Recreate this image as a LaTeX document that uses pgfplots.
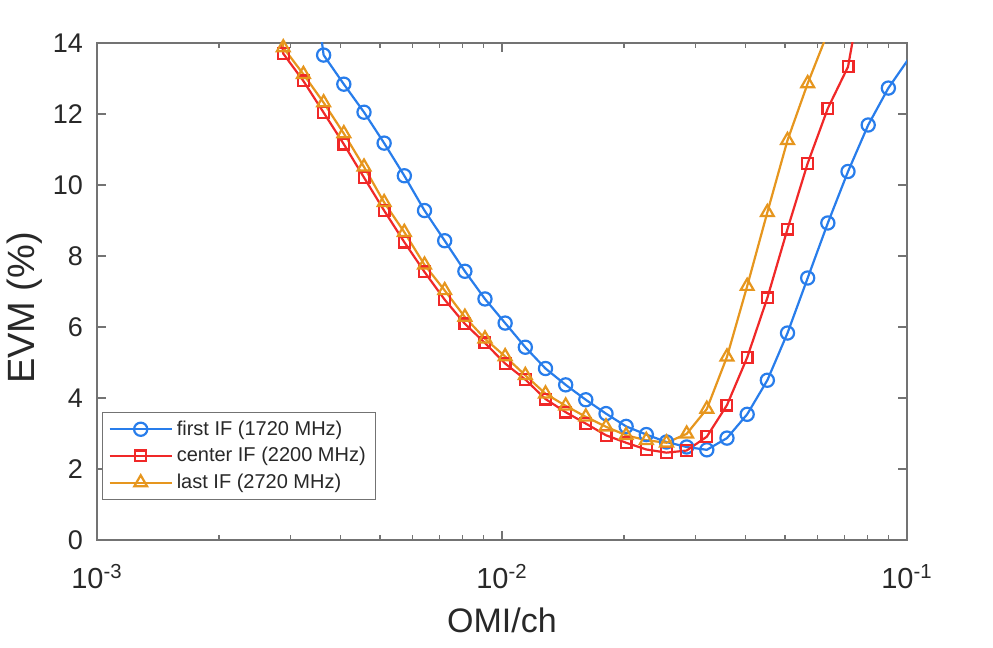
\documentclass[border=0pt]{standalone}
\usepackage{fontspec}
\setmainfont{Liberation Sans}
\usepackage{pgfplots}
\pgfplotsset{compat=1.18}
\definecolor{cblue}{RGB}{40,125,235}
\definecolor{cred}{RGB}{240,40,40}
\definecolor{corange}{RGB}{230,150,30}
\definecolor{axgray}{RGB}{115,115,115}
\definecolor{txt}{RGB}{40,40,40}
\begin{document}
\begin{tikzpicture}
\begin{semilogxaxis}[
  scale only axis, width=405pt, height=248.5pt,
  xmin=0.001, xmax=0.1, ymin=0, ymax=14,
  xtick={0.001,0.01,0.1},
  xticklabels={10\textsuperscript{-3},10\textsuperscript{-2},10\textsuperscript{-1}},
  ytick={0,2,4,6,8,10,12,14},
  axis line style={axgray, line width=0.8pt},
  every tick/.style={axgray, line width=0.6pt},
  major tick length=4.5pt, minor tick length=2.5pt,
  tick label style={font=\fontsize{13.5}{16}\selectfont, text=txt, /pgf/number format/assume math mode=true},
  xticklabel style={yshift=-8.5pt, font=\fontsize{14.5}{16}\selectfont},
  yticklabel style={xshift=-3.5pt},
  xlabel={OMI/ch}, ylabel={EVM (\%)},
  every axis x label/.style={at={(axis description cs:0.5,0)}, anchor=center, yshift=-40pt, font=\fontsize{17}{20}\selectfont, text=txt},
  every axis y label/.style={at={(axis description cs:-0.089,0.467)}, anchor=center, rotate=90, font=\fontsize{19}{20}\selectfont, text=txt},
  legend cell align=left,
  legend style={at={(axis description cs:0.0062,0.0805)}, anchor=south west, draw=axgray, line width=0.6pt, fill=white, font=\fontsize{10}{12}\selectfont, text=txt, row sep=0.6pt, inner xsep=3pt, inner ysep=2pt},
  legend image code/.code={\draw[mark repeat=2,mark phase=2,#1] plot coordinates {(0pt,0pt) (15.5pt,0pt) (31pt,0pt)};},
]
\addplot[cblue, line width=1.1pt, mark=o, mark size=3.3pt, mark options={solid, fill=white}] coordinates {
(0.003234,18) (0.003628,13.66) (0.004069,12.84) (0.004564,12.05) (0.005117,11.18) (0.005740,10.26) (0.006438,9.28) (0.007220,8.43) (0.008098,7.57) (0.009078,6.79) (0.010181,6.11) (0.011419,5.43) (0.012808,4.83) (0.014365,4.37) (0.016106,3.95) (0.018067,3.56) (0.020254,3.20) (0.022718,2.97) (0.025480,2.76) (0.028576,2.62) (0.032047,2.54) (0.035940,2.87) (0.040308,3.54) (0.045208,4.50) (0.050699,5.83) (0.056858,7.38) (0.063768,8.93) (0.071515,10.38) (0.080204,11.69) (0.089950,12.73) (0.100879,13.55)
};
\addlegendentry{first IF (1720 MHz)}
\addplot[cred, line width=1.1pt, mark=square, mark size=2.7pt, mark options={solid, fill=white}] coordinates {
(0.002572,18) (0.002884,13.70) (0.003234,12.93) (0.003628,12.04) (0.004069,11.15) (0.004564,10.21) (0.005117,9.28) (0.005740,8.39) (0.006438,7.55) (0.007220,6.77) (0.008098,6.09) (0.009078,5.55) (0.010181,4.97) (0.011419,4.52) (0.012808,3.97) (0.014365,3.60) (0.016106,3.28) (0.018067,2.95) (0.020254,2.74) (0.022718,2.55) (0.025480,2.46) (0.028576,2.52) (0.032047,2.91) (0.035940,3.80) (0.040308,5.14) (0.045208,6.82) (0.050699,8.76) (0.056858,10.61) (0.063768,12.16) (0.071515,13.33) (0.080204,16.5)
};
\addlegendentry{center IF (2200 MHz)}
\addplot[corange, line width=1.1pt, mark=triangle, mark size=3.7pt, mark options={solid, fill=white}] coordinates {
(0.002572,18) (0.002884,13.87) (0.003234,13.12) (0.003628,12.32) (0.004069,11.45) (0.004564,10.51) (0.005117,9.51) (0.005740,8.67) (0.006438,7.75) (0.007220,7.03) (0.008098,6.28) (0.009078,5.67) (0.010181,5.17) (0.011419,4.64) (0.012808,4.12) (0.014365,3.78) (0.016106,3.47) (0.018067,3.19) (0.020254,2.95) (0.022718,2.81) (0.025480,2.74) (0.028576,2.99) (0.032047,3.69) (0.035940,5.16) (0.040308,7.15) (0.045208,9.23) (0.050699,11.26) (0.056858,12.86) (0.063768,14.3)
};
\addlegendentry{last IF (2720 MHz)}
\end{semilogxaxis}
\path (current axis.south west) ++(-48.5pt,-54pt) rectangle ++(496.5pt,324pt);
\end{tikzpicture}
\end{document}
